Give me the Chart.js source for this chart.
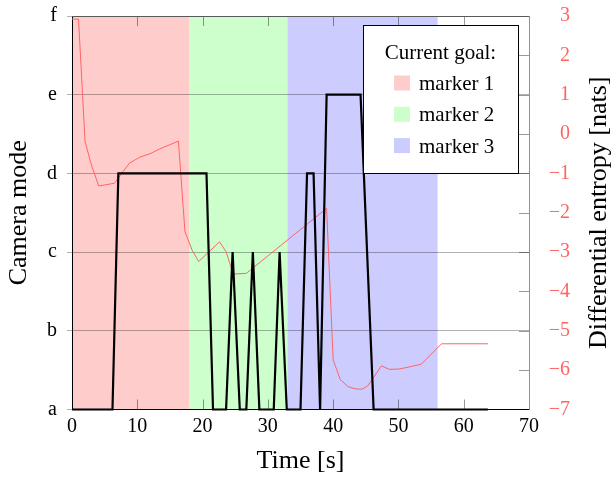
<!DOCTYPE html>
<html>
<head>
<meta charset="utf-8">
<script src="https://cdn.jsdelivr.net/npm/chart.js@4.4.1/dist/chart.umd.min.js"></script>
<style>
  html, body { margin: 0; padding: 0; background: #fff; }
</style>
</head>
<body>
<canvas id="chart" width="613" height="477"></canvas>
<script>
// camera mode (index into modeLabels) over time
const modeLabels = ['a', 'b', 'c', 'd', 'e', 'f'];
const camTime = [0, 6.2, 7.1, 20.6, 21.6, 23.6, 24.6, 25.7, 26.7, 27.7, 28.7, 30.9, 31.8, 32.9,
  35.0, 36.0, 37.0, 38.0, 39.0, 44.2, 46.2, 63.7];
const camMode = [0, 0, 3, 3, 0, 0, 2, 0, 0, 2, 0, 0, 2, 0,
  0, 3, 3, 0, 4, 4, 0, 0];

// differential entropy [nats] over time
const entTime = [0, 1.0, 2.0, 3.05, 4.1, 6.5, 7.8, 8.8, 10.35, 12.1, 13.4, 16.3, 17.3, 18.4, 19.4,
  22.6, 23.6, 24.7, 26.7, 39.0, 40.0, 41.1, 42.3, 43.5, 44.5, 45.3, 47.4, 48.6, 50.2, 53.5, 56.6, 63.7];
const entropy = [2.92, 2.92, -0.19, -0.83, -1.32, -1.25, -0.96, -0.74, -0.59, -0.49, -0.38, -0.18, -2.48, -2.95, -3.24,
  -2.74, -2.99, -3.56, -3.54, -1.89, -5.74, -6.24, -6.42, -6.48, -6.48, -6.40, -5.89, -5.98, -5.97, -5.85, -5.33, -5.33];

// current goal intervals
const goalNames = ['marker 1', 'marker 2', 'marker 3'];
const goalStart = [0, 18, 33];
const goalEnd = [18, 33, 56];
const goalColors = ['rgb(255,204,204)', 'rgb(204,255,204)', 'rgb(204,204,255)'];

const serif = "'Liberation Serif', 'DejaVu Serif', serif";
const red = 'rgb(255,100,100)';

// shaded goal bands behind everything
const bands = {
  id: 'bands',
  beforeDraw(chart) {
    const { ctx, chartArea: a, scales: { x } } = chart;
    ctx.save();
    goalStart.forEach((s, i) => {
      const x0 = x.getPixelForValue(s), x1 = x.getPixelForValue(goalEnd[i]);
      ctx.fillStyle = goalColors[i];
      ctx.fillRect(x0, a.top, x1 - x0, a.bottom - a.top);
    });
    ctx.restore();
  }
};

// inner ticks, top frame line, legend box, right axis title
const frame = {
  id: 'frame',
  beforeDatasetsDraw(chart) {
    const { ctx, chartArea: a, scales: { x, y1 } } = chart;
    ctx.save();
    ctx.strokeStyle = 'rgba(0,0,0,0.4)';
    ctx.lineWidth = 1;
    ctx.beginPath();
    x.ticks.forEach(t => {
      if (t.value <= x.min || t.value >= x.max) return;
      const px = Math.round(x.getPixelForValue(t.value)) + 0.5;
      ctx.moveTo(px, a.bottom); ctx.lineTo(px, a.bottom - 10);
      ctx.moveTo(px, a.top); ctx.lineTo(px, a.top + 10);
    });
    y1.ticks.forEach(t => {
      if (t.value <= y1.min || t.value >= y1.max) return;
      const py = Math.round(y1.getPixelForValue(t.value)) + 0.5;
      ctx.moveTo(a.right, py); ctx.lineTo(a.right - 10, py);
    });
    ctx.stroke();
    ctx.strokeStyle = 'rgb(90,90,90)';
    ctx.beginPath();
    ctx.moveTo(a.left, Math.round(a.top) + 0.5); ctx.lineTo(a.right, Math.round(a.top) + 0.5);
    ctx.stroke();
    ctx.restore();
  },
  afterDatasetsDraw(chart) {
    const { ctx, chartArea: a } = chart;
    const w = 155, h = 148;
    const left = Math.round(a.right - 11 - w), top = Math.round(a.top + 9);
    ctx.save();
    ctx.fillStyle = '#fff';
    ctx.fillRect(left, top, w, h);
    ctx.strokeStyle = '#000';
    ctx.lineWidth = 1;
    ctx.strokeRect(left + 0.5, top + 0.5, w, h);
    ctx.fillStyle = '#000';
    ctx.font = '21px ' + serif;
    ctx.textAlign = 'center';
    ctx.textBaseline = 'alphabetic';
    ctx.fillText('Current goal:', left + w / 2, top + 34);
    ctx.textAlign = 'left';
    goalNames.forEach((name, i) => {
      const base = top + 65 + i * 31.3;
      ctx.fillStyle = goalColors[i];
      ctx.fillRect(left + 31, base - 14.5, 16, 15);
      ctx.fillStyle = '#000';
      ctx.fillText(name, left + 56, base);
    });
    ctx.restore();
  },
  afterDraw(chart) {
    const { ctx, chartArea: a } = chart;
    ctx.save();
    ctx.translate(chart.width - 14, (a.top + a.bottom) / 2);
    ctx.rotate(-Math.PI / 2);
    ctx.fillStyle = '#000';
    ctx.font = '26px ' + serif;
    ctx.textAlign = 'center';
    ctx.textBaseline = 'middle';
    ctx.fillText('Differential entropy [nats]', 0, 0);
    ctx.restore();
  }
};

// fixed axis sizes so the plot area lands where the reference has it
const fixWidth = w => s => { s.width = w; s.paddingTop = 0; s.paddingBottom = 0; };

Chart.defaults.font.family = serif;

new Chart(document.getElementById('chart'), {
  type: 'line',
  data: {
    datasets: [
      {
        label: 'Camera mode',
        data: camTime.map((t, i) => ({ x: t, y: camMode[i] })),
        yAxisID: 'y',
        borderColor: '#000',
        borderWidth: 2.2,
        pointRadius: 0,
        tension: 0,
        clip: 4
      },
      {
        label: 'Differential entropy',
        data: entTime.map((t, i) => ({ x: t, y: entropy[i] })),
        yAxisID: 'y1',
        borderColor: red,
        borderWidth: 1,
        pointRadius: 0,
        tension: 0
      }
    ]
  },
  options: {
    responsive: false,
    animation: false,
    layout: { padding: { top: 16, left: 0, right: 43, bottom: 0 } },
    plugins: { legend: { display: false }, tooltip: { enabled: false } },
    scales: {
      x: {
        type: 'linear',
        min: 0, max: 70,
        grid: { display: false, drawTicks: false },
        border: { color: '#000' },
        ticks: { stepSize: 10, color: '#000', font: { size: 20 }, padding: 5, maxRotation: 0 },
        title: { display: true, text: 'Time [s]', color: '#000', font: { size: 26 }, padding: { top: 0, bottom: 0 } },
        afterFit(s) { s.height = 67.5; s.paddingLeft = 0; s.paddingRight = 0; }
      },
      y: {
        position: 'left',
        min: 0, max: 5,
        grid: { color: 'rgba(0,0,0,0.3)', tickLength: 5 },
        border: { color: '#000' },
        ticks: { stepSize: 1, color: '#000', font: { size: 20 }, padding: 10,
          callback: v => modeLabels[v] },
        title: { display: true, text: 'Camera mode', color: '#000', font: { size: 26 }, padding: { top: 4, bottom: 0 } },
        afterFit: fixWidth(72)
      },
      y1: {
        position: 'right',
        min: -7, max: 3,
        grid: { display: false, drawTicks: false },
        border: { color: red },
        ticks: { stepSize: 1, color: red, font: { size: 20 }, padding: 19, crossAlign: 'far',
          callback: v => (v < 0 ? '\u2212' + Math.abs(v) : String(v)) },
        afterFit: fixWidth(41)
      }
    }
  },
  plugins: [bands, frame]
});
</script>
</body>
</html>
